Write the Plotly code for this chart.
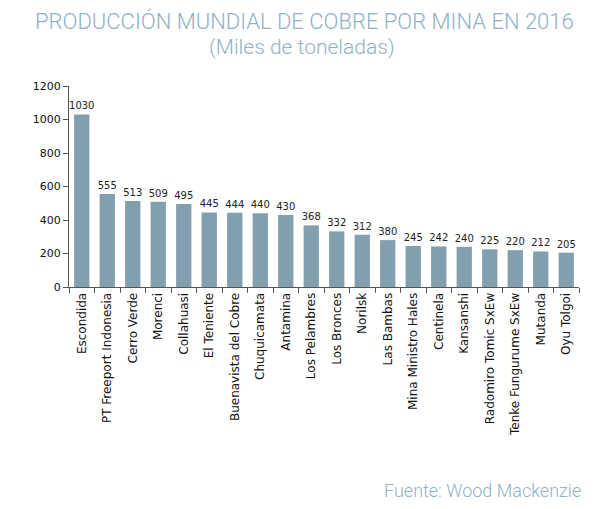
import plotly.graph_objects as go

# Data (thousand tonnes, 2016)
mines = [
    "Escondida", "PT Freeport Indonesia", "Cerro Verde", "Morenci", "Collahuasi",
    "El Teniente", "Buenavista del Cobre", "Chuquicamata", "Antamina", "Los Pelambres",
    "Los Bronces", "Norilsk", "Las Bambas", "Mina Ministro Hales", "Centinela",
    "Kansanshi", "Radomiro Tomic SxEw", "Tenke Fungurume SxEw", "Mutanda", "Oyu Tolgoi",
]
production = [1030, 555, 513, 509, 495, 445, 444, 440, 430, 368,
              332, 312, 280, 245, 242, 240, 225, 220, 212, 205]
# labels as printed in the source (Las Bambas reads 380 there)
bar_labels = ["1030", "555", "513", "509", "495", "445", "444", "440", "430", "368",
              "332", "312", "380", "245", "242", "240", "225", "220", "212", "205"]

y_ticks = [0, 200, 400, 600, 800, 1000, 1200]

BAR_COLOR = "#819fae"
TITLE_COLOR = "#8fb1c6"
FONT = "DejaVu Sans"
TITLE_FONT = "Roboto"

fig = go.Figure()

fig.add_trace(
    go.Bar(
        x=mines,
        y=production,
        text=bar_labels,
        textposition="outside",
        constraintext="none",
        textfont=dict(family=FONT, size=10, color="#222222"),
        cliponaxis=False,
        marker=dict(color=BAR_COLOR, line=dict(width=0)),
        showlegend=False,
    )
)

# the page body adds an 8px offset, so the figure is a bit smaller than the window
fig.update_layout(
    width=601,
    height=501,
    margin=dict(l=61, r=30, t=78, b=222),
    paper_bgcolor="white",
    plot_bgcolor="white",
    bargap=0.4,
    font=dict(family=FONT, size=12, color="#222222"),
    xaxis=dict(
        automargin=False,
        tickangle=-90,
        tickson="boundaries",
        ticks="outside",
        ticklen=5,
        tickcolor="#555555",
        showline=True,
        linecolor="#555555",
        linewidth=1,
        showgrid=False,
        tickfont=dict(family=FONT, size=12, color="#111111"),
    ),
    yaxis=dict(
        automargin=False,
        range=[0, 1200],
        tickvals=y_ticks,
        ticks="outside",
        ticklen=5,
        tickcolor="#555555",
        showline=True,
        linecolor="#555555",
        linewidth=1,
        showgrid=False,
        zeroline=False,
        tickfont=dict(family=FONT, size=11, color="#111111"),
    ),
    annotations=[
        dict(
            text="PRODUCCIÓN MUNDIAL DE COBRE POR MINA EN 2016",
            xref="paper", yref="paper", x=0.5, y=1.0,
            xanchor="center", yanchor="middle", xshift=-20, yshift=65,
            showarrow=False,
            font=dict(family=TITLE_FONT, size=22, color=TITLE_COLOR, weight=300),
        ),
        dict(
            text="(Miles de toneladas)",
            xref="paper", yref="paper", x=0.5, y=1.0,
            xanchor="center", yanchor="middle", xshift=-22, yshift=39,
            showarrow=False,
            font=dict(family=TITLE_FONT, size=21, color=TITLE_COLOR, weight=300),
        ),
        dict(
            text="Fuente: Wood Mackenzie",
            xref="paper", yref="paper", x=1.0, y=0,
            xanchor="right", yanchor="middle", xshift=4, yshift=-203,
            showarrow=False,
            font=dict(family=TITLE_FONT, size=18, color=TITLE_COLOR, weight=300),
        ),
    ],
)

fig.write_html("out.html")
